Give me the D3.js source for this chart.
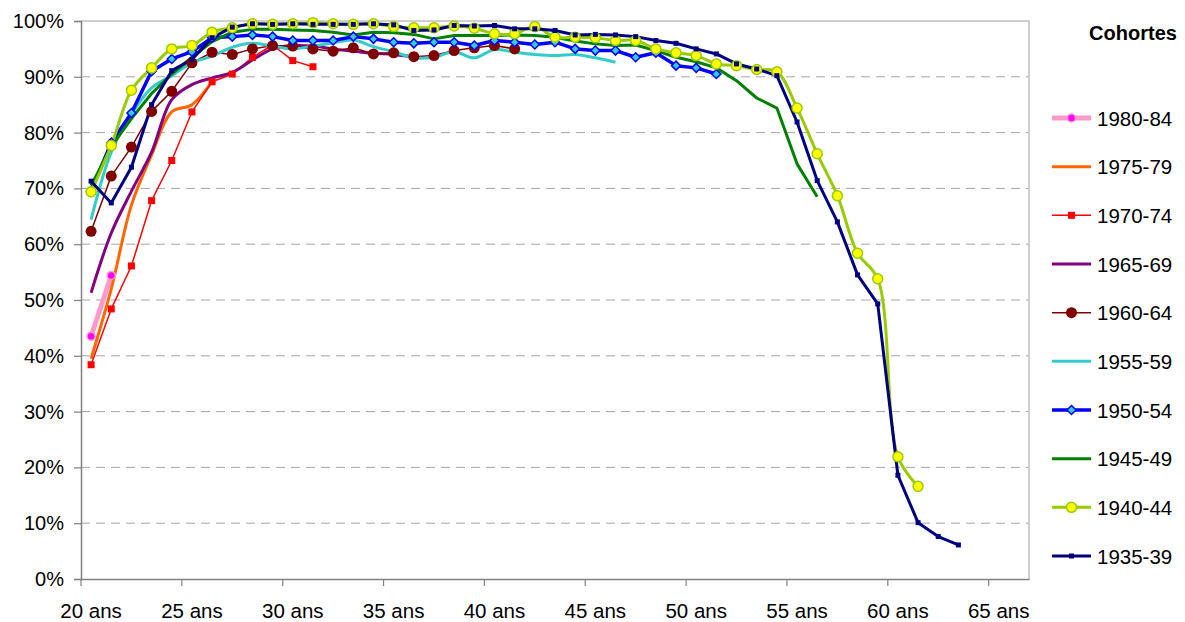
<!DOCTYPE html>
<html><head><meta charset="utf-8">
<script src="https://cdn.jsdelivr.net/npm/d3@7"></script>
<style>
body{margin:0;background:#fff;}
svg{display:block;font-family:"Liberation Sans",Arial,sans-serif;}
</style></head>
<body><svg id="c" width="1185" height="622"></svg>
<script>
// ---- data (percent, first value = age 20) ----
const ages = d3.range(20, 67);            // categories 20..66
const xTickAges = [20,25,30,35,40,45,50,55,60,65];
const yTicks = [0,10,20,30,40,50,60,70,80,90,100];
const legendTitle = "Cohortes";
const cohorts = ["1980-84","1975-79","1970-74","1965-69","1960-64","1955-59","1950-54","1945-49","1940-44","1935-39"];

const c1980 = [43.5, 54.4];
const c1975 = [39.5, 52, 67, 76, 83.7, 85, 89.2];
const c1970 = [38.4, 48.4, 56.1, 67.8, 75.0, 83.7, 89.1, 90.5, 93.5, 95.7, 92.9, 91.8];
const c1965 = [51.3, 62, 69.5, 76.5, 85.9, 88.6, 89.8, 90.8, 93.0, 95.0, 95.6, 95.5, 95.0, 94.6, 94.2, 94.0, 93.5];
const c1960 = [62.3, 72.2, 77.4, 83.8, 87.4, 92.5, 94.4, 94.0, 95.0, 95.6, 95.5, 95.0, 94.6, 95.2, 94.1, 94.3, 93.6, 93.8, 94.7, 95.2, 95.6, 95.0];
const c1955 = [64.4, 76.5, 83.3, 88.0, 90.2, 92.5, 93.7, 95.3, 96.0, 95.5, 95.0, 95.5, 96.1, 96.6, 95.4, 94.5, 93.4, 93.5, 94.5, 93.4, 94.9, 94.4, 94.0, 93.8, 94.0, 93.4, 92.6];
const c1950 = [69.5, 78.2, 83.5, 91.0, 93.2, 94.5, 97.0, 97.2, 97.5, 97.2, 96.5, 96.5, 96.5, 97.2, 96.8, 96.2, 96.0, 96.2, 96.2, 95.6, 96.5, 96.2, 95.8, 96.2, 95.0, 94.7, 94.7, 93.5, 94.3, 92.0, 91.6, 90.5];
const c1945 = [70.5, 77.5, 82.5, 87.0, 90.5, 93.5, 96.3, 98.0, 98.5, 98.5, 98.4, 98.3, 98.0, 97.5, 98.0, 97.9, 97.6, 96.8, 97.4, 97.4, 97.4, 97.5, 97.4, 97.1, 96.4, 95.9, 95.6, 95.7, 94.7, 93.5, 92.7, 91.6, 89.3, 86.2, 84.4, 74.4, 68.5];
const c1940 = [69.4, 77.7, 87.6, 91.6, 95.0, 95.6, 98.0, 98.8, 99.5, 99.4, 99.5, 99.7, 99.5, 99.4, 99.5, 99.0, 98.8, 98.8, 99.1, 98.7, 97.7, 97.7, 99.0, 97.1, 97.1, 97.0, 96.5, 96.5, 95.0, 94.3, 93.8, 92.3, 92.0, 91.3, 90.9, 84.4, 76.2, 68.7, 58.4, 53.8, 21.9, 16.6];
const c1935 = [71.3, 67.4, 73.8, 85.0, 91.1, 93.1, 97.0, 98.9, 99.5, 99.4, 99.5, 99.4, 99.4, 99.4, 99.5, 99.3, 98.3, 98.4, 99.2, 99.1, 99.2, 98.6, 98.6, 98.3, 97.5, 97.6, 97.5, 97.2, 96.5, 96.0, 95.0, 94.1, 92.3, 91.4, 90.2, 81.9, 71.4, 64.0, 54.5, 49.3, 18.6, 10.1, 7.6, 6.1];

const values = [c1980, c1975, c1970, c1965, c1960, c1955, c1950, c1945, c1940, c1935];

// ---- styles ----
const styles = [
  {stroke:"#FF99CC", w:5,   smooth:false, marker:"circle", r:4,   fill:"#FF00FF", mstroke:"#FF99CC", mw:1.5},
  {stroke:"#FF6600", w:3,   smooth:true,  marker:null},
  {stroke:"#FF0000", w:1.5, smooth:false, marker:"square", s:7,   fill:"#FF0000", mstroke:"#FF0000", mw:0},
  {stroke:"#800080", w:3,   smooth:true,  marker:null},
  {stroke:"#800000", w:1.5, smooth:false, marker:"circle", r:5.5, fill:"#800000", mstroke:"#800000", mw:0},
  {stroke:"#33CCCC", w:3,   smooth:true,  marker:null},
  {stroke:"#0000FF", w:3.5, smooth:false, marker:"diamond", s:4.5, fill:"#33CCCC", mstroke:"#0000FF", mw:1.5},
  {stroke:"#008000", w:3,   smooth:false, marker:null},
  {stroke:"#99CC00", w:3,   smooth:true,  marker:"circle", r:5,   fill:"#FFFF00", mstroke:"#99CC00", mw:1.5},
  {stroke:"#000080", w:3,   smooth:false, marker:"square", s:5,   fill:"#000080", mstroke:"#000080", mw:0}
];

const svg = d3.select("#c");
const L = 81, R = 1029, T = 21, B = 579;

const x = d3.scaleBand().domain(ages).range([L, R]).paddingInner(0).paddingOuter(0);
const bw = x.bandwidth();
const xc = a => x(a) + bw/2;
const y = d3.scaleLinear().domain([0,100]).range([B, T]);

// gridlines
svg.append("g").selectAll("line").data(yTicks.filter(d => d>0 && d<100)).join("line")
  .attr("x1", L).attr("x2", R).attr("y1", d=>y(d)).attr("y2", d=>y(d))
  .attr("stroke", "#A6A6A6").attr("stroke-width", 1).attr("stroke-dasharray", "9,6");
// plot border top/right
svg.append("path").attr("d", `M${L},${y(100)}H${R}V${B}`)
  .attr("fill","none").attr("stroke","#C0C0C0").attr("stroke-width",1.5);

// y axis
const yAxis = d3.axisLeft(y).tickValues(yTicks).tickFormat(d => d + "%").tickSize(7).tickPadding(10);
const gy = svg.append("g").attr("transform", `translate(${L},0)`).call(yAxis);
gy.select(".domain").attr("stroke", "#808080").attr("stroke-width", 1.5);
gy.selectAll(".tick line").attr("stroke", "#808080").attr("stroke-width", 1.2);
gy.selectAll(".tick text").attr("font-size", 20).attr("fill", "#000").attr("font-family", "Liberation Sans, Arial, sans-serif");

// x axis
const xAxis = d3.axisBottom(x).tickValues(xTickAges).tickFormat(d => d + " ans").tickSize(0).tickPadding(24);
const gx = svg.append("g").attr("transform", `translate(0,${B})`).call(xAxis);
gx.select(".domain").attr("stroke", "#808080").attr("stroke-width", 1.5);
gx.selectAll(".tick text").attr("font-size", 20.5).attr("fill", "#000").attr("font-family", "Liberation Sans, Arial, sans-serif");
gx.selectAll(".tick").append("line")
  .attr("x1", -bw/2).attr("x2", -bw/2).attr("y1", 0).attr("y2", 7)
  .attr("stroke", "#808080").attr("stroke-width", 1.2);

// lines
const series = cohorts.map((name, i) => ({name, st: styles[i], pts: values[i].map((v, j) => ({age: 20 + j, v}))}));
const lineStraight = d3.line().x(d => xc(d.age)).y(d => y(d.v));
const lineSmooth = d3.line().x(d => xc(d.age)).y(d => y(d.v)).curve(d3.curveCatmullRom.alpha(0.5));

const gl = svg.append("g");
series.forEach(s => {
  gl.append("path").attr("d", (s.st.smooth ? lineSmooth : lineStraight)(s.pts))
    .attr("fill", "none").attr("stroke", s.st.stroke).attr("stroke-width", s.st.w)
    .attr("stroke-linejoin", "round").attr("stroke-linecap", "butt");
});

function drawMarker(g, st, cx, cy) {
  if (st.marker === "circle") {
    g.append("circle").attr("cx", cx).attr("cy", cy).attr("r", st.r)
      .attr("fill", st.fill).attr("stroke", st.mstroke).attr("stroke-width", st.mw);
  } else if (st.marker === "square") {
    g.append("rect").attr("x", cx - st.s/2).attr("y", cy - st.s/2).attr("width", st.s).attr("height", st.s)
      .attr("fill", st.fill);
  } else if (st.marker === "diamond") {
    const s = st.s;
    g.append("path").attr("d", `M${cx},${cy-s}L${cx+s},${cy}L${cx},${cy+s}L${cx-s},${cy}Z`)
      .attr("fill", st.fill).attr("stroke", st.mstroke).attr("stroke-width", st.mw);
  }
}
const gm = svg.append("g");
series.forEach(s => {
  if (!s.st.marker) return;
  s.pts.forEach(p => drawMarker(gm, s.st, xc(p.age), y(p.v)));
});

// legend
const lg = svg.append("g");
lg.append("text").attr("x", 1133).attr("y", 40).attr("text-anchor", "middle")
  .attr("font-size", 20).attr("font-weight", "bold").text(legendTitle);
const ly = d3.scalePoint().domain(cohorts).range([118, 556]);
series.forEach(s => {
  const yy = ly(s.name);
  lg.append("line").attr("x1", 1052).attr("x2", 1091).attr("y1", yy).attr("y2", yy)
    .attr("stroke", s.st.stroke).attr("stroke-width", s.st.w);
  drawMarker(lg, s.st, 1071.5, yy);
  lg.append("text").attr("x", 1097).attr("y", yy + 7.5).attr("font-size", 20.5).attr("fill", "#000").text(s.name);
});
</script></body></html>
